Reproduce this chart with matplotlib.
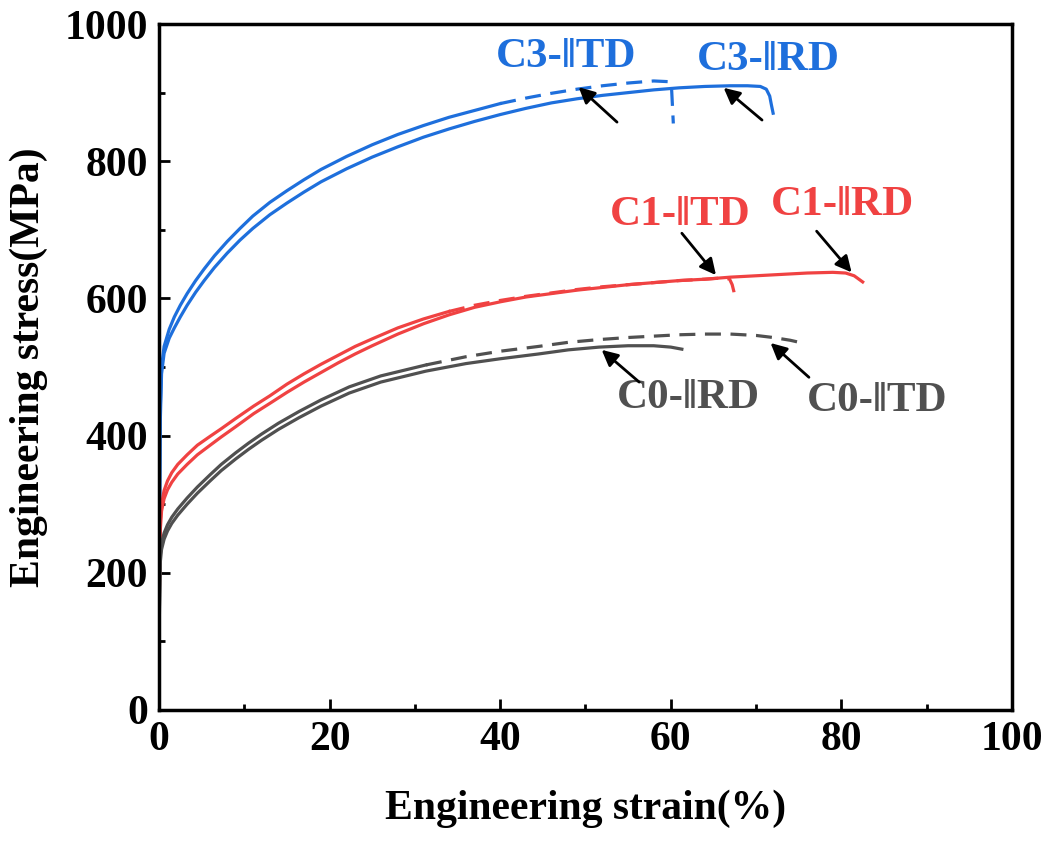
import numpy as np
import matplotlib
matplotlib.use('Agg')
from matplotlib import pyplot as plt

plt.rcParams['font.family'] = ['Liberation Serif', 'DejaVu Serif']
plt.rcParams['font.weight'] = 'bold'

# colours of the three conditions
blue = '#1E6FDC'
red = '#F04242'
grey = '#505050'

# C3 (blue)
c3_rd_strain = [0, 0.05, 0.15, 0.3, 0.6, 1.2, 1.8, 2.5, 3.3, 4.3, 5.3, 6.5, 8, 9.5, 11, 13, 15, 17, 19, 22, 25, 28, 31, 34, 37, 40,
                43, 46, 49, 52, 55, 58, 61, 64, 67, 69, 70.5, 71.2, 71.6, 71.8, 72]
c3_rd_stress = [0, 240, 420, 490, 520, 542, 557, 573, 590, 609, 626, 645, 666, 685, 702, 722, 739, 755, 770, 789, 806, 821, 835, 847, 858, 868,
                877, 885, 891, 896, 900, 904, 907, 909, 910, 910, 909, 905, 895, 882, 870]
c3_td_strain = [0, 0.05, 0.15, 0.3, 0.6, 1.2, 1.8, 2.5, 3.3, 4.3, 5.3, 6.5, 8, 9.5, 11, 13, 15, 17, 19, 22, 25, 28, 31, 34, 37, 40,
                43, 46, 49, 52, 55, 58, 59.7, 60.1, 60.2, 60.3]
c3_td_stress = [0, 250, 440, 500, 530, 555, 573, 590, 607, 626, 643, 662, 683, 702, 720, 740, 757, 773, 788, 807, 824, 839, 852, 864, 874, 884,
                892, 899, 905, 910, 914, 917, 916, 905, 880, 855]

# C1 (red)
c1_rd_strain = [0, 0.05, 0.15, 0.3, 0.6, 1, 1.5, 2.2, 3.3, 4.5, 6, 7.3, 9, 11.1, 13, 15, 17, 19, 21, 23, 25, 28, 31, 34, 37, 40,
                43, 46, 49, 52, 55, 58, 61, 64, 67, 70, 73, 76, 79, 80.5, 81.5, 82.5]
c1_rd_stress = [0, 170, 262, 290, 308, 321, 332, 344, 358, 372, 386, 398, 413, 432, 447, 463, 478, 492, 506, 519, 531, 548, 563, 576, 587, 595,
                602, 607, 612, 616, 620, 623, 626, 628, 631, 633, 635, 637, 638, 637, 633, 624]
c1_td_strain = [0, 0.05, 0.15, 0.3, 0.6, 1, 1.5, 2.2, 3.3, 4.5, 6, 7.3, 9, 11.1, 13, 15, 17, 19, 21, 23, 25, 28, 31, 34, 37, 40,
                43, 46, 49, 52, 55, 58, 61, 64, 66.3, 66.9, 67.2, 67.4, 67.5]
c1_td_stress = [0, 180, 275, 300, 320, 334, 346, 358, 372, 386, 399, 410, 425, 443, 458, 475, 490, 504, 517, 530, 541, 557, 570, 581, 590, 597,
                603, 608, 613, 617, 620, 623, 626, 628, 630, 628, 620, 610, 602]

# C0 (grey)
c0_rd_strain = [0, 0.05, 0.15, 0.3, 0.6, 1, 1.5, 2.2, 3.3, 4.5, 6, 7.3, 9, 10.5, 12, 14, 16.4, 19, 22.3, 26, 31.3, 36, 40,
                44.5, 48, 51.6, 55, 58, 60, 61.3]
c0_rd_stress = [0, 140, 215, 234, 249, 261, 272, 284, 300, 316, 334, 349, 366, 380, 393, 409, 426, 443, 462, 478, 494, 505, 512,
                519, 525, 529, 531, 531, 529, 526]
c0_td_strain = [0, 0.05, 0.15, 0.3, 0.6, 1, 1.5, 2.2, 3.3, 4.5, 6, 7.3, 9, 10.5, 12, 14, 16.4, 19, 22.3, 26, 31.3, 36, 40,
                44.5, 48, 51.6, 55, 58, 61, 64, 67, 70, 72, 74, 75.4]
c0_td_stress = [0, 150, 225, 243, 258, 270, 281, 293, 309, 325, 343, 358, 375, 389, 402, 418, 435, 452, 471, 487, 503, 515, 523,
                530, 536, 540, 543, 545, 547, 548, 548, 546, 543, 539, 535]

# labels: text, text pos, arrow head, arrow tail, colour
labels = [
    ('C3-‖TD', (47.7, 952), (49.2, 908), (53.7, 857), blue),
    ('C3-‖RD', (71.4, 948), (66.2, 907), (70.7, 860), blue),
    ('C1-‖TD', (61.1, 722), (65.3, 634), (61.3, 695), red),
    ('C1-‖RD', (80.1, 736), (81.2, 638), (77.1, 698), red),
    ('C0-‖RD', (62.1, 455), (51.9, 525), (56.3, 478), grey),
    ('C0-‖TD', (84.2, 450), (71.7, 535), (76.2, 485), grey),
]


def plot_td(ax, xs, ys, split, c):
    # the dashed curve looks solid at the start (dense data there)
    xs = np.array(xs, float)
    ys = np.array(ys, float)
    m = xs <= split
    ax.plot(xs[m], ys[m], c=c, lw=2.3, solid_joinstyle='round')
    k = np.sum(m) - 1
    ax.plot(xs[k:], ys[k:], c=c, lw=2.3, dashes=(5, 3))


fig = plt.figure(figsize=(10.48, 8.43), dpi=100)
ax = fig.add_axes([0.1517, 0.1578, 0.8139, 0.8137])

ax.plot(c3_rd_strain, c3_rd_stress, c=blue, lw=2.3, solid_joinstyle='round')
plot_td(ax, c3_td_strain, c3_td_stress, 40, blue)
ax.plot(c1_rd_strain, c1_rd_stress, c=red, lw=2.3, solid_joinstyle='round')
plot_td(ax, c1_td_strain, c1_td_stress, 34, red)
ax.plot(c0_rd_strain, c0_rd_stress, c=grey, lw=2.3, solid_joinstyle='round')
plot_td(ax, c0_td_strain, c0_td_stress, 31.3, grey)

for txt, pos, head, tail, c in labels:
    ax.text(pos[0], pos[1], txt, color=c, fontsize=31, fontweight='bold',
            ha='center', va='center')
    ax.annotate('', xy=head, xytext=tail,
                arrowprops=dict(arrowstyle='-|>', color='k', lw=2,
                                mutation_scale=24, shrinkA=0, shrinkB=0))

ax.set_xlim(0, 100)
ax.set_ylim(0, 1000)
ax.set_xticks(np.arange(0, 101, 20))
ax.set_xticks(np.arange(10, 100, 20), minor=True)
ax.set_yticks(np.arange(0, 1001, 200))
ax.set_yticks(np.arange(100, 1000, 200), minor=True)
ax.tick_params(which='both', direction='in', top=False, right=False, width=2)
ax.tick_params(which='major', length=8, labelsize=30, pad=8)
ax.tick_params(which='minor', length=4)
for lab in ax.get_xticklabels() + ax.get_yticklabels():
    lab.set_fontweight('bold')
for s in ax.spines.values():
    s.set_linewidth(2.5)

ax.set_xlabel('Engineering strain(%)', fontsize=30, fontweight='bold', labelpad=22)
ax.set_ylabel('Engineering stress(MPa)', fontsize=30, fontweight='bold', labelpad=12)

fig.savefig('out.png', dpi=100)
